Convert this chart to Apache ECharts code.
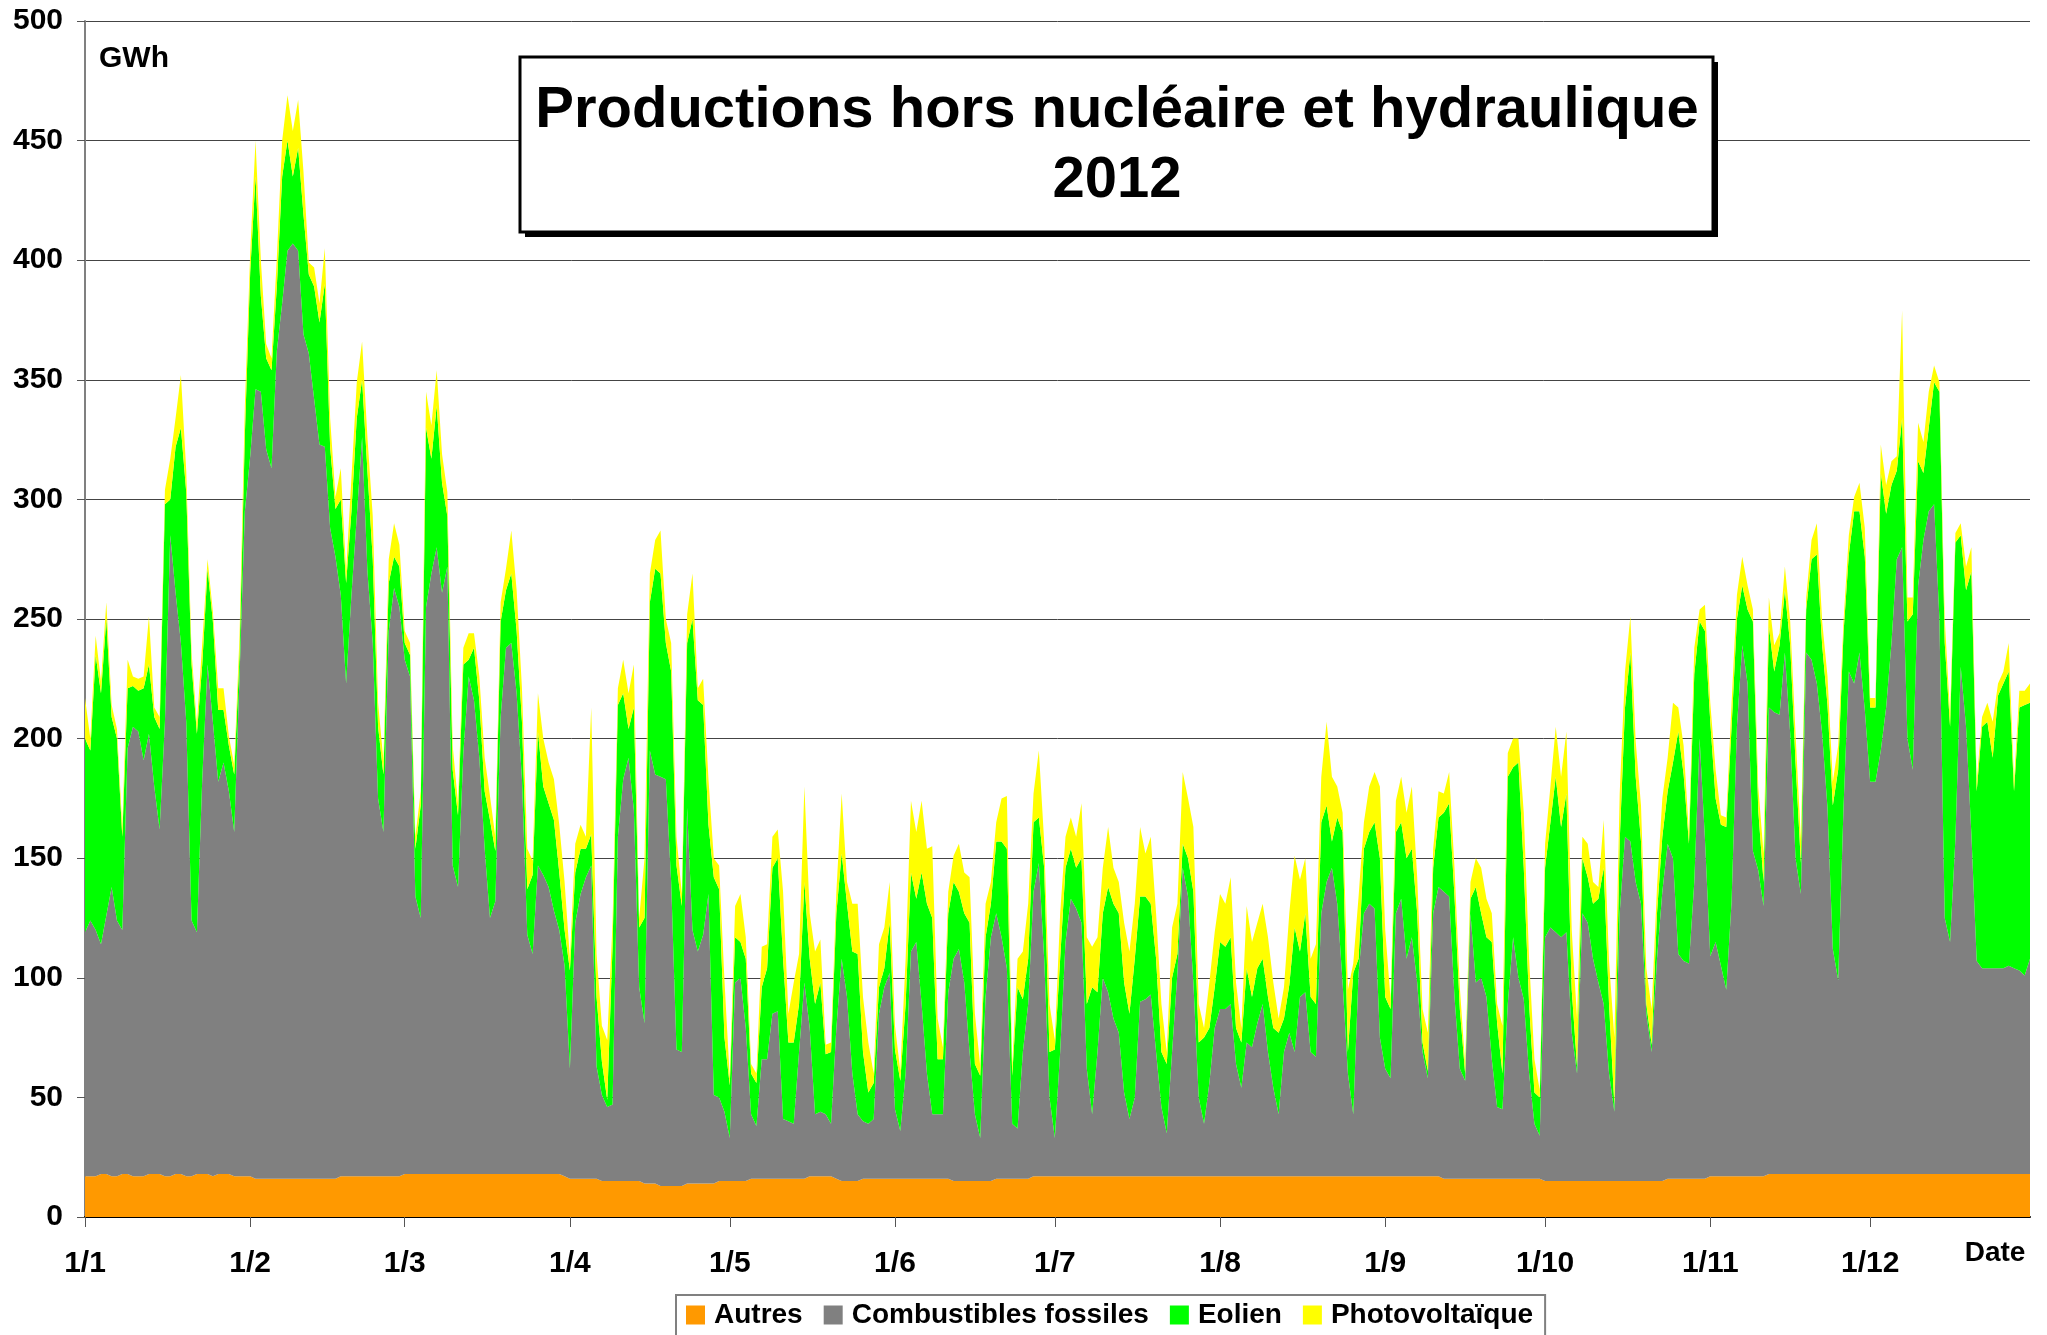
<!DOCTYPE html>
<html>
<head>
<meta charset="utf-8">
<title>Productions hors nucléaire et hydraulique 2012</title>
<script src="https://cdn.jsdelivr.net/npm/echarts@6/dist/echarts.min.js"></script>
<style>
html, body { margin: 0; padding: 0; background: #fff; }
#main { width: 2047px; height: 1335px; }
</style>
</head>
<body>
<div id="main"></div>
<script>
"use strict";

// tick labels on the date axis, one per month
var monthLabels = ['1/1', '1/2', '1/3', '1/4', '1/5', '1/6', '1/7', '1/8', '1/9', '1/10', '1/11', '1/12'];
var monthDays = [31, 29, 31, 30, 31, 30, 31, 31, 30, 31, 30, 31];

// daily production, GWh, one line per month
var autres = [
    17,17,17,18,18,17,17,18,18,17,17,17,18,18,18,17,17,18,18,17,17,18,18,18,17,18,18,18,17,17,17,
    17,16,16,16,16,16,16,16,16,16,16,16,16,16,16,16,16,17,17,17,17,17,17,17,17,17,17,17,17,
    18,18,18,18,18,18,18,18,18,18,18,18,18,18,18,18,18,18,18,18,18,18,18,18,18,18,18,18,18,18,17,
    16,16,16,16,16,16,15,15,15,15,15,15,15,15,14,14,14,13,13,13,13,13,14,14,14,14,14,14,15,15,
    15,15,15,15,16,16,16,16,16,16,16,16,16,16,16,17,17,17,17,17,16,15,15,15,15,16,16,16,16,16,16,
    16,16,16,16,16,16,16,16,16,16,16,15,15,15,15,15,15,15,15,16,16,16,16,16,16,16,17,17,17,17,
    17,17,17,17,17,17,17,17,17,17,17,17,17,17,17,17,17,17,17,17,17,17,17,17,17,17,17,17,17,17,17,
    17,17,17,17,17,17,17,17,17,17,17,17,17,17,17,17,17,17,17,17,17,17,17,17,17,17,17,17,17,17,17,
    17,17,17,17,17,17,17,17,17,17,17,16,16,16,16,16,16,16,16,16,16,16,16,16,16,16,16,16,16,16,
    15,15,15,15,15,15,15,15,15,15,15,15,15,15,15,15,15,15,15,15,15,15,15,16,16,16,16,16,16,16,16,
    17,17,17,17,17,17,17,17,17,17,17,18,18,18,18,18,18,18,18,18,18,18,18,18,18,18,18,18,18,18,
    18,18,18,18,18,18,18,18,18,18,18,18,18,18,18,18,18,18,18,18,18,18,18,18,18,18,18,18,18,18,18
];

var fossiles = [
    102,107,103,96,108,121,107,102,178,188,186,174,184,162,144,190,268,243,222,190,107,101,165,213,190,164,172,160,144,209,278,
    301,330,329,305,297,346,366,388,391,388,353,345,326,307,306,272,260,243,206,243,276,309,253,223,158,144,228,246,238,
    215,208,116,107,237,251,262,243,254,129,120,176,208,198,174,136,107,114,191,220,222,201,165,100,92,129,125,120,110,102,88,
    46,107,119,126,131,47,36,31,32,144,168,177,155,81,67,181,171,171,170,127,57,56,157,106,97,104,121,37,35,29,
    18,83,85,64,27,22,50,50,69,70,25,24,23,53,82,62,26,27,26,22,63,93,77,45,28,24,23,25,69,80,86,
    29,20,44,95,99,73,44,27,27,27,78,93,97,83,54,28,18,77,102,111,101,88,23,21,53,73,119,131,91,33,
    16,52,98,116,112,106,45,26,52,83,77,66,60,35,24,33,73,74,76,52,29,18,52,85,129,117,81,33,22,39,62,
    70,70,72,47,37,56,54,64,72,52,37,26,52,60,52,75,77,52,50,110,123,129,114,81,43,26,85,110,114,112,58,
    45,41,110,116,91,100,81,52,41,110,121,120,118,76,46,41,111,82,84,76,50,30,29,73,101,84,75,44,23,18,
    102,106,104,102,104,62,45,112,108,93,83,74,45,29,112,144,142,125,116,70,54,93,121,140,134,94,91,90,124,184,142,
    92,98,88,78,115,188,222,206,136,128,113,195,193,192,218,184,132,117,218,215,205,184,153,94,81,153,210,205,218,194,
    164,164,177,195,222,257,262,182,169,246,265,277,280,232,107,97,140,212,187,142,89,86,86,86,86,86,87,86,85,83,90
];

var eolien = [
    81,71,115,105,124,71,76,39,25,17,17,30,29,29,42,91,15,61,90,96,107,83,48,40,42,30,22,19,24,9,32,
    77,89,40,38,41,27,53,46,28,43,50,33,47,51,68,34,20,40,42,35,41,24,42,35,30,24,20,13,17,
    7,9,20,47,75,48,59,46,21,40,30,37,7,22,24,24,41,21,40,24,29,26,24,19,33,56,37,35,38,24,15,
    41,21,19,12,13,29,14,3,66,55,36,12,43,25,44,62,86,85,57,88,77,61,69,130,105,96,29,91,87,31,
    22,19,15,29,17,18,30,38,61,64,67,33,34,20,42,29,46,54,25,30,48,44,39,51,67,29,13,15,11,8,21,
    25,21,29,33,18,55,71,82,23,23,33,32,24,29,54,21,26,25,14,30,40,50,20,59,22,19,29,19,38,19,
    37,39,31,21,17,27,27,53,25,27,44,48,50,46,44,58,44,43,38,39,23,29,31,8,10,16,38,23,36,23,17,
    28,26,28,15,19,31,21,23,19,23,25,34,14,20,52,19,33,23,22,38,32,11,36,63,9,59,6,27,30,36,75,
    30,29,34,32,42,37,29,4,3,19,29,33,39,42,25,3,6,40,27,25,49,35,15,95,71,90,55,29,13,16,
    29,44,65,46,58,18,3,23,19,23,35,57,29,3,30,54,79,44,26,4,3,19,23,22,40,93,78,50,87,49,87,
    98,60,59,68,73,45,25,31,96,25,10,34,17,29,26,37,40,13,18,42,54,37,43,60,88,73,49,72,59,64,
    31,31,116,81,66,37,54,49,65,52,28,35,51,95,115,90,124,55,57,110,71,101,103,88,114,119,123,74,110,113,107
];

var photovoltaique = [
    17,5,8,5,7,5,4,4,12,4,5,5,20,4,5,6,17,12,22,9,5,4,9,4,4,9,9,4,4,8,12,
    8,15,15,6,5,12,15,19,19,20,18,5,8,8,15,12,5,13,5,14,15,16,14,18,10,6,10,14,9,
    5,5,5,6,15,14,15,12,10,10,5,7,11,6,10,14,10,6,8,9,18,17,14,17,6,16,20,17,17,20,20,
    5,12,10,5,53,18,15,25,10,7,14,15,18,4,25,12,12,18,10,12,12,5,12,19,5,11,19,8,10,24,
    3,13,20,9,4,4,17,10,13,12,28,12,25,21,40,19,22,18,4,4,9,25,9,20,21,23,21,4,18,17,17,
    10,4,19,30,28,30,23,30,17,5,9,11,20,17,19,21,4,14,9,8,18,22,4,12,20,23,12,28,11,20,
    4,19,13,13,13,23,28,17,23,19,25,15,13,25,26,23,29,18,28,19,20,5,21,21,30,25,27,16,4,19,23,
    20,18,25,19,6,26,23,19,23,25,19,6,13,30,30,30,23,16,25,19,35,27,13,8,26,4,26,11,19,21,30,
    28,4,13,19,19,26,15,14,16,8,11,8,13,12,9,4,7,12,19,16,12,8,20,10,12,10,23,19,14,3,
    10,15,21,21,26,25,20,9,14,9,5,20,18,28,20,15,15,15,15,15,15,11,16,14,25,10,12,4,11,5,11,
    8,12,4,4,10,10,12,10,5,10,12,12,11,5,10,10,12,10,5,8,13,10,12,10,10,5,8,6,12,12,
    4,4,12,12,10,6,45,10,7,16,13,15,7,4,10,5,4,5,10,10,4,4,8,15,5,5,12,4,7,6,8
];

var FONT = '"Liberation Sans", Arial, sans-serif';

// one category per day of 2012, written d/m
var dates = [];
monthDays.forEach(function (n, m) {
    for (var d = 1; d <= n; d++) {
        dates.push(d + '/' + (m + 1));
    }
});

function isMonthStart(idx, value) {
    return monthLabels.indexOf(dates[idx]) >= 0;
}

function areaSerie(name, data, color) {
    return {
        name: name,
        type: 'line',
        stack: 'total',
        data: data,
        symbol: 'none',
        showSymbol: false,
        lineStyle: {width: 0, opacity: 0},
        areaStyle: {color: color, opacity: 1},
        itemStyle: {color: color},
        emphasis: {disabled: true}
    };
}

var myChart = echarts.init(document.getElementById('main'));

var option = {
    animation: false,
    backgroundColor: '#fff',
    grid: {left: 85, right: 17, top: 21, bottom: 118, containLabel: false},
    legend: {
        left: 676,
        top: 1295,
        icon: 'rect',
        itemWidth: 19,
        itemHeight: 19,
        itemGap: 21,
        padding: [6, 12, 16, 10],
        borderColor: '#808080',
        borderWidth: 2,
        textStyle: {fontFamily: FONT, fontWeight: 'bold', fontSize: 28, color: '#000', padding: [0, 0, 0, 4]},
        data: ['Autres', 'Combustibles fossiles', 'Eolien', 'Photovoltaïque']
    },
    xAxis: {
        type: 'category',
        boundaryGap: false,
        data: dates,
        axisLine: {lineStyle: {color: '#000', width: 2}},
        axisTick: {show: true, interval: isMonthStart, length: 10, lineStyle: {color: '#555', width: 1}},
        axisLabel: {
            interval: isMonthStart,
            margin: 32,
            fontFamily: FONT,
            fontWeight: 'bold',
            fontSize: 30,
            color: '#000'
        },
        splitLine: {show: false}
    },
    yAxis: {
        type: 'value',
        min: 0,
        max: 500,
        interval: 50,
        axisLine: {show: true, lineStyle: {color: '#808080', width: 2}},
        axisTick: {show: true, length: 8, lineStyle: {color: '#555'}},
        axisLabel: {margin: 22, fontFamily: FONT, fontWeight: 'bold', fontSize: 30, color: '#000'},
        splitLine: {show: true, lineStyle: {color: '#444', width: 1}}
    },
    graphic: [
        {
            // drop shadow of the title box
            type: 'rect',
            z: 100,
            shape: {x: 525, y: 62, width: 1193, height: 175},
            style: {fill: '#000'}
        },
        {
            type: 'rect',
            z: 101,
            shape: {x: 520, y: 57, width: 1193, height: 175},
            style: {fill: '#fff', stroke: '#000', lineWidth: 3}
        },
        {
            type: 'text', z: 102, x: 1117, y: 111,
            style: {
                text: 'Productions hors nucléaire et hydraulique',
                align: 'center', verticalAlign: 'middle',
                textAlign: 'center', textVerticalAlign: 'middle',
                fontFamily: FONT, fontWeight: 'bold', fontSize: 58, fill: '#000'
            }
        },
        {
            type: 'text', z: 102, x: 1117, y: 181,
            style: {
                text: '2012',
                align: 'center', verticalAlign: 'middle',
                textAlign: 'center', textVerticalAlign: 'middle',
                fontFamily: FONT, fontWeight: 'bold', fontSize: 58, fill: '#000'
            }
        },
        {
            type: 'text', z: 101, x: 99, y: 59,
            style: {
                text: 'GWh', align: 'left', verticalAlign: 'middle',
                textAlign: 'left', textVerticalAlign: 'middle',
                fontFamily: FONT, fontWeight: 'bold', fontSize: 30, fill: '#000'
            }
        },
        {
            type: 'text', z: 101, x: 1995, y: 1253,
            style: {
                text: 'Date', align: 'center', verticalAlign: 'middle',
                textAlign: 'center', textVerticalAlign: 'middle',
                fontFamily: FONT, fontWeight: 'bold', fontSize: 28, fill: '#000'
            }
        }
    ],
    series: [
        areaSerie('Autres', autres, '#FF9900'),
        areaSerie('Combustibles fossiles', fossiles, '#808080'),
        areaSerie('Eolien', eolien, '#00FF00'),
        areaSerie('Photovoltaïque', photovoltaique, '#FFFF00')
    ]
};

myChart.setOption(option);
</script>
</body>
</html>
